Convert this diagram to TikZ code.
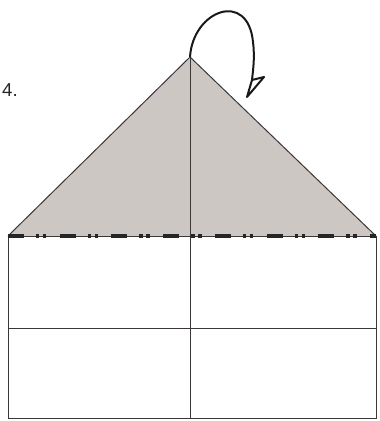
\documentclass[tikz,border=0pt]{standalone}
\usepackage{fontspec}
\setsansfont{Liberation Sans}
\usetikzlibrary{arrows.meta}
\definecolor{flapgray}{RGB}{204,199,195}
\definecolor{inkline}{RGB}{60,55,55}

\begin{document}
\begin{tikzpicture}[x=0.75pt, y=-0.75pt,
  edge/.style={draw=inkline, line width=0.75pt},
  foldline/.style={draw=black!85, line width=2.3pt,
     dash pattern=on 12pt off 9pt on 2.6pt off 2.6pt on 2.6pt off 10pt},
  turnarrow/.style={draw=black!90, line width=1.5pt, line join=round},
  steplabel/.style={font=\sffamily\fontsize{14}{16}\selectfont, text=black!85}]
\useasboundingbox (0,0) rectangle (379,421);
\def\xl{8}\def\xr{376}\def\xm{190}
% corners of the sheet
\coordinate (apex) at (\xm,57);
\coordinate (bl) at (\xl,236);
\coordinate (br) at (\xr,236);
\coordinate (ml) at (\xl,328);
\coordinate (mr) at (\xr,328);
\coordinate (ll) at (\xl,418);
\coordinate (lr) at (\xr,418);
\coordinate (foot) at (\xm,418);
\coordinate (tip) at (247,97);
\coordinate (barb) at (252,80);
\coordinate (wing) at (264,77);
% the folded flap
\fill[flapgray] (bl) -- (apex) -- (br) -- cycle;
\draw[edge] (bl) -- (apex) -- (br);
\draw[edge] (bl) -- (ll) -- (lr) -- (br) -- cycle;
\draw[edge] (ml) -- (mr);
\draw[edge] (apex) -- (foot);
\draw[foldline] (bl) -- (br);
% turn over
\draw[turnarrow] (apex) .. controls (193,10) and (248,-10) .. (253,42)
  .. controls (255,58) and (253,70) .. (barb) -- (tip) -- (wing) -- (barb);
\node[steplabel] (num) at (10,90) {4.};
\end{tikzpicture}
\end{document}
